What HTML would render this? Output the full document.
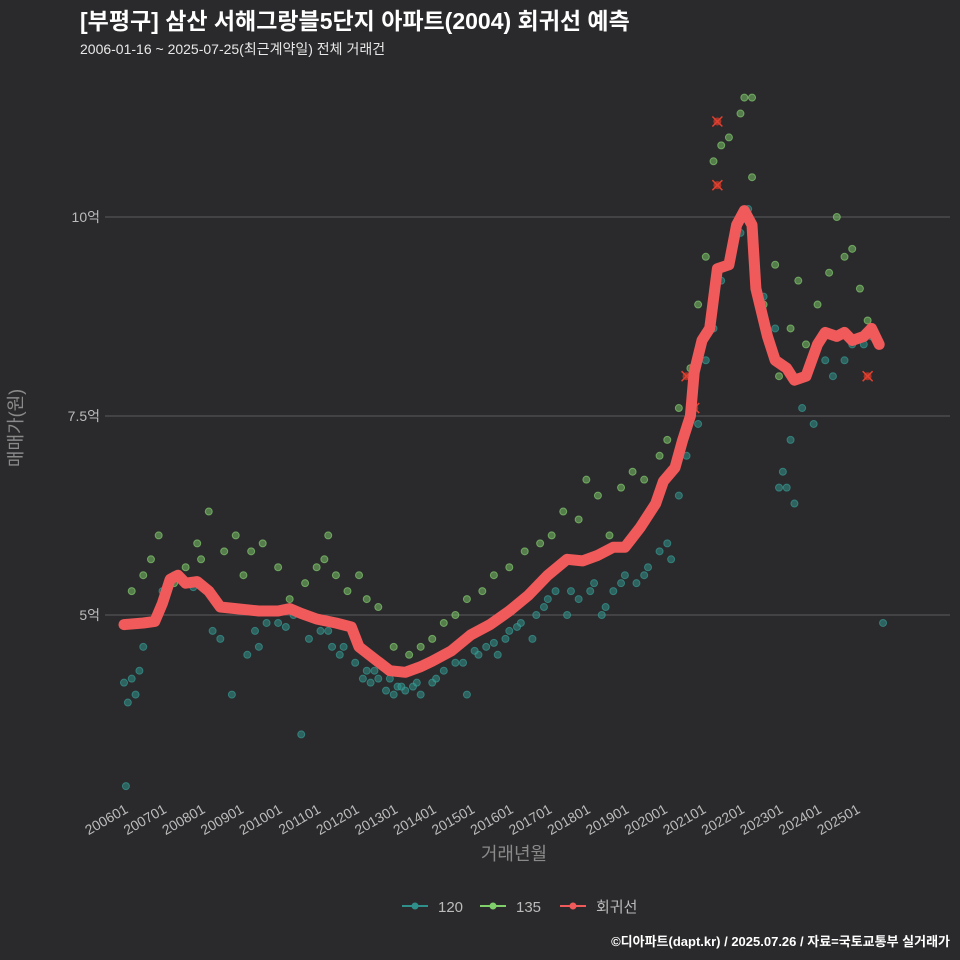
<!DOCTYPE html>
<html><head><meta charset="utf-8">
<style>
html,body{margin:0;padding:0;background:#2a2a2c;}
svg{display:block;font-family:"Liberation Sans","Noto Sans CJK KR",sans-serif;}
</style></head>
<body>
<svg id="chart" width="960" height="960" viewBox="0 0 960 960">
<rect x="0" y="0" width="960" height="960" fill="#2a2a2c"/>
<text x="80" y="29" fill="#ffffff" font-size="23" font-weight="bold">[부평구] 삼산 서해그랑블5단지 아파트(2004) 회귀선 예측</text>
<text x="80" y="54" fill="#e8e8e8" font-size="14">2006-01-16 ~ 2025-07-25(최근계약일) 전체 거래건</text>
<g id="grid"></g>
<g id="points"></g>
<g id="line"></g>
<g id="xaxis"></g>
<text x="0" y="0" transform="translate(22,428) rotate(-90)" text-anchor="middle" fill="#8a8a8a" font-size="18">매매가(원)</text>
<text x="514" y="860" text-anchor="middle" fill="#8a8a8a" font-size="18">거래년월</text>
<g>
<g><line x1="402" y1="906" x2="428" y2="906" stroke="#2f8f8a" stroke-width="2"/><circle cx="415" cy="906" r="3.5" fill="#2f8f8a"/><text x="438" y="912" fill="#bbbbbb" font-size="15">120</text></g>
<g><line x1="480" y1="906" x2="506" y2="906" stroke="#7fcf6a" stroke-width="2"/><circle cx="493" cy="906" r="3.5" fill="#7fcf6a"/><text x="516" y="912" fill="#bbbbbb" font-size="15">135</text></g>
<g><line x1="560" y1="906" x2="586" y2="906" stroke="#f05a5a" stroke-width="2"/><circle cx="573" cy="906" r="3.5" fill="#f05a5a"/><text x="596" y="912" fill="#bbbbbb" font-size="15">회귀선</text></g>
</g>
<text x="950" y="946" text-anchor="end" fill="#ffffff" font-size="13" font-weight="bold">©디아파트(dapt.kr) / 2025.07.26 / 자료=국토교통부 실거래가</text>
</svg>
<script>
const yTicks=[5,7.5,10];
const yTickLabels=["5억","7.5억","10억"];
const xTickYears=[2006,2007,2008,2009,2010,2011,2012,2013,2014,2015,2016,2017,2018,2019,2020,2021,2022,2023,2024,2025];
const xTickLabels=["200601","200701","200801","200901","201001","201101","201201","201301","201401","201501","201601","201701","201801","201901","202001","202101","202201","202301","202401","202501"];
const lineT=[2006.0,2006.5,2006.8,2007.0,2007.2,2007.4,2007.6,2007.9,2008.2,2008.5,2008.9,2009.5,2010.0,2010.3,2010.6,2011.0,2011.5,2011.9,2012.1,2012.5,2012.9,2013.3,2013.7,2014.0,2014.5,2015.0,2015.5,2016.0,2016.5,2017.0,2017.5,2017.9,2018.3,2018.7,2019.0,2019.4,2019.8,2020.0,2020.3,2020.5,2020.7,2020.8,2021.0,2021.2,2021.4,2021.7,2021.9,2022.1,2022.3,2022.4,2022.7,2022.9,2023.2,2023.4,2023.7,2024.0,2024.2,2024.5,2024.7,2024.9,2025.2,2025.4,2025.6];
const lineV=[4.88,4.9,4.92,5.15,5.45,5.5,5.4,5.42,5.3,5.1,5.08,5.05,5.05,5.08,5.02,4.95,4.9,4.85,4.6,4.45,4.3,4.28,4.35,4.42,4.55,4.75,4.88,5.05,5.25,5.5,5.7,5.68,5.75,5.85,5.85,6.1,6.4,6.68,6.85,7.2,7.5,8.05,8.45,8.6,9.35,9.4,9.9,10.08,9.9,9.1,8.5,8.2,8.1,7.95,8.0,8.4,8.55,8.5,8.55,8.45,8.5,8.6,8.4];
const t120=[2006.0,2006.1,2006.2,2006.3,2006.4,2006.5,2006.6,2007.0,2007.3,2007.8,2008.3,2008.5,2008.8,2009.2,2009.4,2009.7,2010.0,2010.4,2010.8,2011.1,2011.4,2011.7,2012.0,2012.2,2012.4,2012.6,2012.8,2013.0,2013.1,2013.3,2013.5,2013.7,2014.0,2014.3,2014.6,2014.9,2015.2,2015.4,2015.7,2016.0,2016.3,2016.6,2016.9,2017.2,2017.5,2017.8,2018.1,2018.4,2018.7,2019.0,2019.3,2019.6,2019.9,2020.1,2020.4,2020.6,2020.9,2021.1,2021.3,2021.5,2021.8,2022.0,2022.2,2022.6,2022.9,2023.0,2023.1,2023.2,2023.3,2023.4,2023.6,2023.9,2024.2,2024.4,2024.7,2024.9,2025.2,2025.4,2025.7,2006.05,2010.6,2011.6,2012.3,2012.9,2013.2,2013.6,2014.1,2014.8,2015.1,2015.6,2015.9,2016.2,2016.7,2017.0,2017.6,2018.2,2018.5,2018.9,2019.5,2020.2,2009.5,2010.2,2011.3,2012.5];
const v120=[4.15,3.9,4.2,4.0,4.3,4.6,4.9,5.3,5.5,5.35,4.8,4.7,4.0,4.5,4.8,4.9,4.9,5.0,4.7,4.8,4.6,4.6,4.4,4.2,4.15,4.2,4.05,4.0,4.1,4.05,4.1,4.0,4.15,4.3,4.4,4.0,4.5,4.6,4.5,4.8,4.9,4.7,5.1,5.3,5.0,5.2,5.3,5.0,5.3,5.5,5.4,5.6,5.8,5.9,6.5,7.0,7.4,8.2,8.6,9.2,9.6,9.8,10.1,9.0,8.6,6.6,6.8,6.6,7.2,6.4,7.6,7.4,8.2,8.0,8.2,8.4,8.4,8.5,4.9,2.85,3.5,4.5,4.3,4.2,4.1,4.15,4.2,4.4,4.55,4.65,4.7,4.85,5.0,5.2,5.3,5.4,5.1,5.4,5.5,5.7,4.6,4.85,4.8,4.3];
const t135=[2006.2,2006.5,2006.7,2006.9,2007.3,2007.6,2008.0,2008.2,2008.6,2008.9,2009.1,2009.3,2009.6,2010.0,2010.3,2010.7,2011.0,2011.2,2011.5,2011.8,2012.1,2012.3,2012.6,2013.0,2013.4,2013.7,2014.0,2014.3,2014.6,2014.9,2015.3,2015.6,2016.0,2016.4,2016.8,2017.1,2017.4,2017.8,2018.0,2018.3,2018.6,2018.9,2019.2,2019.5,2019.9,2020.1,2020.4,2020.7,2020.9,2021.1,2021.3,2021.5,2021.7,2022.0,2022.1,2022.3,2022.6,2022.9,2023.0,2023.3,2023.5,2023.7,2024.0,2024.3,2024.5,2024.7,2024.9,2025.1,2025.3,2007.9,2011.3,2022.3];
const v135=[5.3,5.5,5.7,6.0,5.4,5.6,5.7,6.3,5.8,6.0,5.5,5.8,5.9,5.6,5.2,5.4,5.6,5.7,5.5,5.3,5.5,5.2,5.1,4.6,4.5,4.6,4.7,4.9,5.0,5.2,5.3,5.5,5.6,5.8,5.9,6.0,6.3,6.2,6.7,6.5,6.0,6.6,6.8,6.7,7.0,7.2,7.6,8.1,8.9,9.5,10.7,10.9,11.0,11.3,11.5,10.5,8.9,9.4,8.0,8.6,9.2,8.4,8.9,9.3,10.0,9.5,9.6,9.1,8.7,5.9,6.0,11.5];
const outT=[2021.4,2021.4,2020.6,2020.8,2025.3];
const outV=[11.2,10.4,8.0,7.6,8.0];

const NS="http://www.w3.org/2000/svg";
const X0=124,XPY=38.53,YREF=615,PPU=79.6;
function sx(t){return X0+(t-2006)*XPY;}
function sy(v){return YREF-(v-5)*PPU;}
function mk(tag,attrs,parent){const e=document.createElementNS(NS,tag);for(const k in attrs)e.setAttribute(k,attrs[k]);parent.appendChild(e);return e;}

const grid=document.getElementById('grid');
yTicks.forEach((v,i)=>{
  const l=mk('line',{x1:105,x2:950,y1:sy(v),y2:sy(v),stroke:'#5c5c5e','stroke-width':1},grid);
  
  
  const t=mk('text',{x:100,y:sy(v)+5,'text-anchor':'end',fill:'#bbbbbb','font-size':14},grid);
  t.textContent=yTickLabels[i];
  
  
});
const xa=document.getElementById('xaxis');
xTickYears.forEach((y,i)=>{
  const x=sx(y);
  const t=mk('text',{x:0,y:0,'text-anchor':'end',fill:'#bbbbbb','font-size':14,transform:`translate(${x+5},${812}) rotate(-30)`},xa);
  t.textContent=xTickLabels[i];
  
  
});
const pg=document.getElementById('points');
t120.forEach((t,i)=>{
  const c=mk('circle',{cx:sx(t),cy:sy(v120[i]),r:3.5,fill:'#2f8f8a','fill-opacity':0.55,stroke:'#3aa59f','stroke-opacity':0.6},pg);
  
  
});
t135.forEach((t,i)=>{
  const c=mk('circle',{cx:sx(t),cy:sy(v135[i]),r:3.5,fill:'#7fcf6a','fill-opacity':0.5,stroke:'#8fdc7a','stroke-opacity':0.6},pg);
  
  
});
outT.forEach((t,i)=>{
  const x=sx(t),y=sy(outV[i]);
  const g=mk('g',{},pg);
  
  
  mk('circle',{cx:x,cy:y,r:4,fill:'#c0392b','fill-opacity':0.8},g);
  mk('path',{d:`M${x-5},${y-5}L${x+5},${y+5}M${x-5},${y+5}L${x+5},${y-5}`,stroke:'#e04030','stroke-width':1.5},g);
});
const lg=document.getElementById('line');
const d=lineT.map((t,i)=>(i?'L':'M')+sx(t).toFixed(1)+','+sy(lineV[i]).toFixed(1)).join('');
const p=mk('path',{d:d,fill:'none',stroke:'#f05a5a','stroke-width':11,'stroke-linejoin':'round','stroke-linecap':'round'},lg);


</script>
</body></html>
